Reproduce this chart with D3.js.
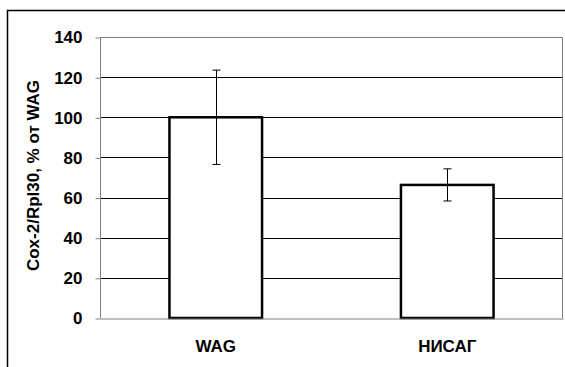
<!DOCTYPE html>
<html>
<head>
<meta charset="utf-8">
<script src="https://cdn.jsdelivr.net/npm/d3@7"></script>
<style>
  body { margin: 0; background: #fff; }
  svg { display: block; font-family: "Liberation Sans", Arial, sans-serif; }
</style>
</head>
<body>
<div id="chart"></div>
<script>
// chart data
var groups = ["WAG", "НИСАГ"];
var values = [100, 66.3];
var errors = [23.5, 8];
var yTicks = [0, 20, 40, 60, 80, 100, 120, 140];
var yTitle = "Cox-2/Rpl30, % от WAG";

var width = 565, height = 367;
var margin = { left: 100, top: 37, right: 2, bottom: 49 };

var svg = d3.select("#chart").append("svg")
    .attr("width", width)
    .attr("height", height);

// outer frame
svg.append("rect")
    .attr("x", 7.5).attr("y", 10.5)
    .attr("width", 570).attr("height", 370)
    .attr("fill", "none").attr("stroke", "#000").attr("stroke-width", 1.5);

var x = d3.scaleBand()
    .domain(groups)
    .range([margin.left, width - margin.right]);

var y = d3.scaleLinear()
    .domain([0, 140])
    .range([height - margin.bottom, margin.top]);

// grid lines
svg.append("g").selectAll("line")
    .data(yTicks.filter(function(d) { return d > 0 && d < 140; }))
    .enter().append("line")
    .attr("x1", margin.left).attr("x2", width - margin.right)
    .attr("y1", function(d) { return Math.round(y(d)) + 0.5; })
    .attr("y2", function(d) { return Math.round(y(d)) + 0.5; })
    .attr("stroke", "#000").attr("stroke-width", 1);

// plot area border (top and right)
svg.append("path")
    .attr("d", "M" + margin.left + "," + (Math.round(y(140)) + 0.5) +
               "H" + (width - margin.right - 0.5) +
               "V" + (Math.round(y(0)) + 0.5))
    .attr("fill", "none").attr("stroke", "#808080").attr("stroke-width", 1);

// bars
var barW = x.bandwidth() * 0.4;
svg.append("g").selectAll("rect")
    .data(groups)
    .enter().append("rect")
    .attr("x", function(d) { return x(d) + x.bandwidth() / 2 - barW / 2; })
    .attr("y", function(d, i) { return y(values[i]); })
    .attr("width", barW)
    .attr("height", function(d, i) { return y(0) - y(values[i]); })
    .attr("fill", "#fff").attr("stroke", "#000").attr("stroke-width", 2.5);

// error bars
var eb = svg.append("g").attr("stroke", "#000").attr("stroke-width", 1);
groups.forEach(function(g, i) {
  var cx = Math.round(x(g) + x.bandwidth() / 2) + 0.5;
  var top = y(values[i] + errors[i]), bot = y(values[i] - errors[i]);
  eb.append("line").attr("x1", cx).attr("x2", cx).attr("y1", top).attr("y2", bot);
  eb.append("line").attr("x1", cx - 4).attr("x2", cx + 4).attr("y1", top).attr("y2", top);
  eb.append("line").attr("x1", cx - 4).attr("x2", cx + 4).attr("y1", bot).attr("y2", bot);
});

// y axis
var yAxis = svg.append("g")
    .attr("transform", "translate(" + (margin.left + 0.5) + ",0.5)")
    .call(d3.axisLeft(y).tickValues(yTicks).tickSize(5).tickPadding(13));
yAxis.select(".domain").attr("stroke", "#808080").attr("d", "M0," + Math.round(y(140)) + "V" + Math.round(y(0)));
yAxis.selectAll(".tick line").attr("stroke", "#808080");
yAxis.selectAll("text")
    .attr("font-size", 17).attr("font-weight", "bold")
    .attr("font-family", "Liberation Sans, Arial, sans-serif").attr("fill", "#000");

// x axis
var xAxis = svg.append("g")
    .attr("transform", "translate(0," + (Math.round(y(0)) + 0.5) + ")")
    .call(d3.axisBottom(x).tickSize(0).tickPadding(21));
xAxis.select(".domain").attr("stroke", "#808080");
xAxis.selectAll("text")
    .attr("font-size", 17).attr("font-weight", "bold")
    .attr("font-family", "Liberation Sans, Arial, sans-serif").attr("fill", "#000");

// y title
svg.append("text")
    .attr("transform", "translate(39,175.5) rotate(-90)")
    .attr("text-anchor", "middle")
    .attr("font-size", 17).attr("font-weight", "bold")
    .text(yTitle);
</script>
</body>
</html>
